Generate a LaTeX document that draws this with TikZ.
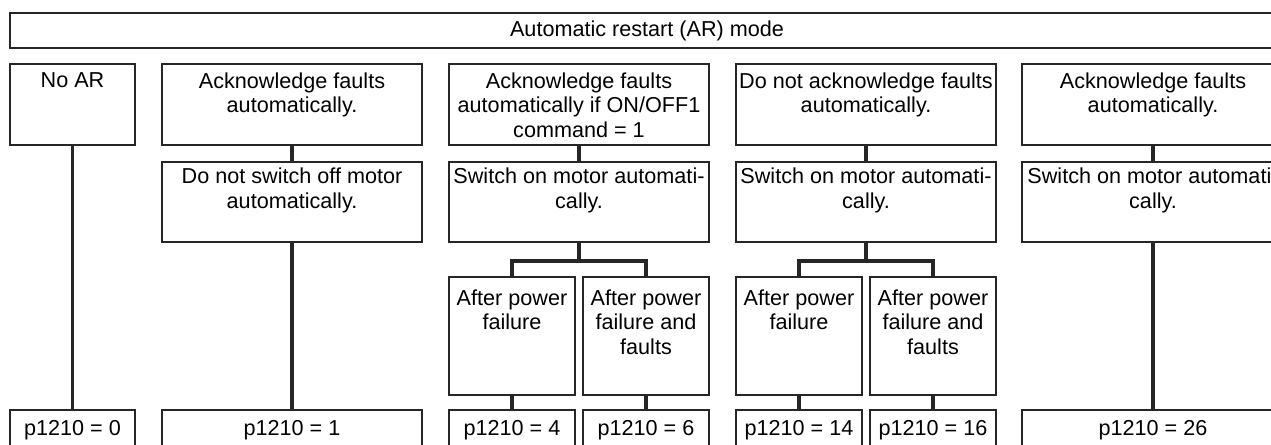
\documentclass[tikz,border=0pt]{standalone}
\usepackage{fontspec}
\setmainfont{Liberation Sans}
\usetikzlibrary{positioning}

\begin{document}
\begin{tikzpicture}[
    font=\fontsize{12.3}{14.2}\selectfont,
    hdr/.style={draw=black!85, line width=1pt, inner sep=0pt, minimum width=25.48cm, minimum height=0.7cm},
    box/.style n args={3}{draw=black!85, line width=1pt, inner sep=0pt, anchor=north,
      execute at begin node={\begin{minipage}[t][#2][t]{#1}\centering\vspace*{#3}},
      execute at end node={\end{minipage}}},
    val/.style={draw=black!85, line width=1pt, inner sep=0pt, minimum width=#1, minimum height=0.8cm},
    link/.style={line width=2.2pt, draw=black!85}
  ]

  \useasboundingbox (0,0) rectangle (25.42,-8.88);
  \clip (0,0) rectangle (25.42,-8.88);

  % Header
  \node[hdr] (mode) at (12.94,-0.61) {Automatic restart (AR) mode};

  % Row 1: Fault acknowledgement
  \node[box={2.5cm}{1.62cm}{0.17cm}] (noar) at (1.45,-1.26) {No AR};
  \node[box={5.2cm}{1.62cm}{0.17cm}] (ackA) at (5.84,-1.26) {Acknowledge faults\\automatically.};
  \node[box={5.2cm}{1.62cm}{0.17cm}] (ackOn) at (11.58,-1.26) {Acknowledge faults\\automatically if ON/OFF1\\command = 1};
  \node[box={5.2cm}{1.62cm}{0.17cm}] (noAck) at (17.32,-1.26) {Do not acknowledge faults\\automatically.};
  \node[box={5.24cm}{1.62cm}{0.17cm}] (ackB) at (23.06,-1.26) {Acknowledge faults\\automatically.};

  % Row 2: Motor behaviour
  \node[box={5.2cm}{1.6cm}{0.12cm}] (keepOn) at (5.84,-3.22) {Do not switch off motor\\automatically.};
  \node[box={5.2cm}{1.6cm}{0.12cm}] (swOn3) at (11.58,-3.22) {Switch on motor automati-\\cally.};
  \node[box={5.2cm}{1.6cm}{0.12cm}] (swOn4) at (17.32,-3.22) {Switch on motor automati-\\cally.};
  \node[box={5.24cm}{1.6cm}{0.12cm}] (swOn5) at (23.06,-3.22) {Switch on motor automati-\\cally.};

  % Row 3: Restart condition
  \node[box={2.52cm}{2.36cm}{0.25cm}] (pwr3) at (10.24,-5.52) {After power\\failure};
  \node[box={2.52cm}{2.36cm}{0.25cm}] (pwrF3) at (12.92,-5.52) {After power\\failure and\\faults};
  \node[box={2.52cm}{2.36cm}{0.25cm}] (pwr4) at (15.98,-5.52) {After power\\failure};
  \node[box={2.52cm}{2.36cm}{0.25cm}] (pwrF4) at (18.66,-5.52) {After power\\failure and\\faults};

  % Row 4: Parameter values
  \node[val=2.5cm] (v0) at (1.45,-8.6) {p1210 = 0};
  \node[val=5.2cm] (v1) at (5.84,-8.6) {p1210 = 1};
  \node[val=2.52cm] (v4) at (10.24,-8.6) {p1210 = 4};
  \node[val=2.52cm] (v6) at (12.92,-8.6) {p1210 = 6};
  \node[val=2.52cm] (v14) at (15.98,-8.6) {p1210 = 14};
  \node[val=2.52cm] (v16) at (18.66,-8.6) {p1210 = 16};
  \node[val=5.24cm] (v26) at (23.06,-8.6) {p1210 = 26};

  % Links
  \draw[link] (noar.south) -- (v0.north);
  \draw[link] (ackA.south) -- (keepOn.north);
  \draw[link] (keepOn.south) -- (v1.north);
  \draw[link] (ackOn.south) -- (swOn3.north);
  \draw[link] (noAck.south) -- (swOn4.north);
  \draw[link] (ackB.south) -- (swOn5.north);
  \draw[link] (swOn5.south) -- (v26.north);

  \draw[link] (swOn3.south) -- ++(0,-0.36) coordinate (fork3);
  \draw[link] (pwr3.north) |- (fork3) -| (pwrF3.north);
  \draw[link] (swOn4.south) -- ++(0,-0.36) coordinate (fork4);
  \draw[link] (pwr4.north) |- (fork4) -| (pwrF4.north);

  \draw[link] (pwr3.south) -- (v4.north);
  \draw[link] (pwrF3.south) -- (v6.north);
  \draw[link] (pwr4.south) -- (v14.north);
  \draw[link] (pwrF4.south) -- (v16.north);

\end{tikzpicture}
\end{document}
